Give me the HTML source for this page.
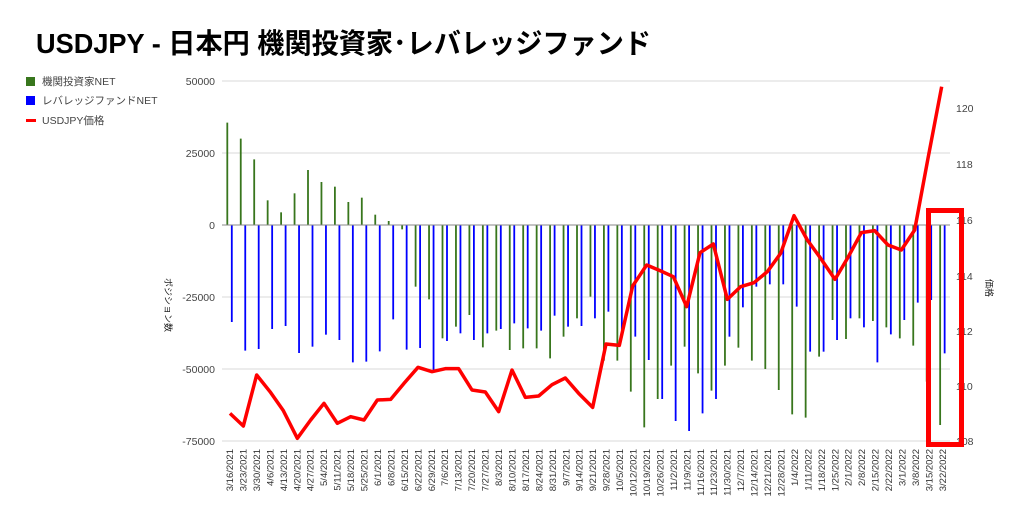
<!DOCTYPE html>
<html><head><meta charset="utf-8"><style>
body{margin:0;background:#fff;width:1024px;height:521px;overflow:hidden}
svg text{font-family:"Liberation Sans","Noto Sans CJK JP",sans-serif}
</style></head><body>
<svg width="1024" height="521" viewBox="0 0 1024 521" xmlns="http://www.w3.org/2000/svg">
<text x="36" y="53" font-size="28" font-weight="bold" fill="#000" textLength="615" lengthAdjust="spacingAndGlyphs">USDJPY - 日本円 機関投資家･レバレッジファンド</text>
<rect x="26" y="77" width="9" height="9" fill="#38761d"/><text x="42" y="85" font-size="10.5" fill="#444">機関投資家NET</text>
<rect x="26" y="96" width="9" height="9" fill="#0000ff"/><text x="42" y="104" font-size="10.5" fill="#444">レバレッジファンドNET</text>
<rect x="26" y="119" width="10" height="3" fill="#ff0000"/><text x="42" y="124" font-size="10.5" fill="#444">USDJPY価格</text>
<g stroke="#d9d9d9" stroke-width="1">
<line x1="222" x2="950" y1="81" y2="81"/><line x1="222" x2="950" y1="153" y2="153"/>
<line x1="222" x2="950" y1="297" y2="297"/><line x1="222" x2="950" y1="369" y2="369"/><line x1="222" x2="950" y1="441" y2="441"/>
</g>
<g font-size="10.5" fill="#444" text-anchor="end">
<text x="215" y="85">50000</text><text x="215" y="157">25000</text><text x="215" y="229">0</text>
<text x="215" y="301">-25000</text><text x="215" y="373">-50000</text><text x="215" y="445">-75000</text>
</g>
<g font-size="10.5" fill="#444">
<text x="956" y="112">120</text><text x="956" y="168">118</text><text x="956" y="224">116</text>
<text x="956" y="280">114</text><text x="956" y="335">112</text><text x="956" y="390">110</text><text x="956" y="445">108</text>
</g>
<text transform="translate(165,278) rotate(90)" font-size="9" fill="#222">ポジション数</text>
<text transform="translate(986,279) rotate(90)" font-size="9" fill="#222">価格</text>
<g id="bars" stroke-width="1.8"></g>
<line x1="222" x2="950" y1="225" y2="225" stroke="#888" stroke-width="1"/>
<polyline id="price" fill="none" stroke="#ff0000" stroke-width="3.5" stroke-linejoin="round"/>
<g id="xl" font-size="9.5" fill="#333" text-anchor="end"></g>
<rect x="928.5" y="210.5" width="33" height="234" fill="none" stroke="#ff0000" stroke-width="5"/>
</svg>
<script>
var G=[158,206,268,391,427,370,300,336,350,396,383,434,453,478,650,688,805,770,735,832,782,840,835,835,865,800,745,680];
var G2=[872,872,965,1072,987,887,830,910,962,887,833,872,897,960,1033,1043,860,750,807,745,753,772,805,827,935,1065];
var B=[756,842,837,777,768,849,830,794,810,877,875,844,748,839,834,900,813,790,810,790,777,760,775,782,737,770,768,745];
var B2=[725,780,800,870,987,1053,1083,1030,987,800,712,650,643,643,710,845,845,810,745,772,877,793,750,698,690,850];
var g=G.concat(G2),b=B.concat(B2),s='';
for(var i=0;i<54;i++){var x=227.3+13.45*i;
s+='<line x1="'+x+'" x2="'+x+'" y1="225" y2="'+(70+g[i]/3)+'" stroke="#38761d"/>';
s+='<line x1="'+(x+4.5)+'" x2="'+(x+4.5)+'" y1="225" y2="'+(70+b[i]/3)+'" stroke="#0000ff"/>';}
document.getElementById('bars').innerHTML=s;
var P1=[[30,1030],[70,1068],[110,915],[150,965],[190,1022],[232,1105],[272,1050],[312,1000],[352,1060],[392,1040],[432,1050],[472,990],[512,988],[552,940],[594,892],[636,905],[676,896],[716,896],[756,960],[796,966],[836,1025],[876,900],[916,982],[956,978],[996,944],[1036,924],[1076,970],[1118,1012]];
var P2=[[48,822],[88,826],[128,648],[170,585],[210,602],[250,620],[290,710],[330,548],[370,522],[412,688],[452,650],[492,638],[532,605],[572,550],[612,437],[652,510],[692,565],[735,628],[774,562],[814,488],[854,482],[894,525],[934,540],[974,480],[1014,265],[1055,50]];
var pts=P1.map(function(p){return (220+p[0]/3)+','+(70+p[1]/3)}).concat(P2.map(function(p){return (590+p[0]/3)+','+(70+p[1]/3)}));
document.getElementById('price').setAttribute('points',pts.join(' '));
var d=new Date(2021,2,16),t='';
for(var i=0;i<54;i++){var x=233+13.45*i;var lab=(d.getMonth()+1)+'/'+d.getDate()+'/'+d.getFullYear();
t+='<text transform="translate('+x+',449) rotate(-90)">'+lab+'</text>';d.setDate(d.getDate()+7);}
document.getElementById('xl').innerHTML=t;
</script>
</body></html>
